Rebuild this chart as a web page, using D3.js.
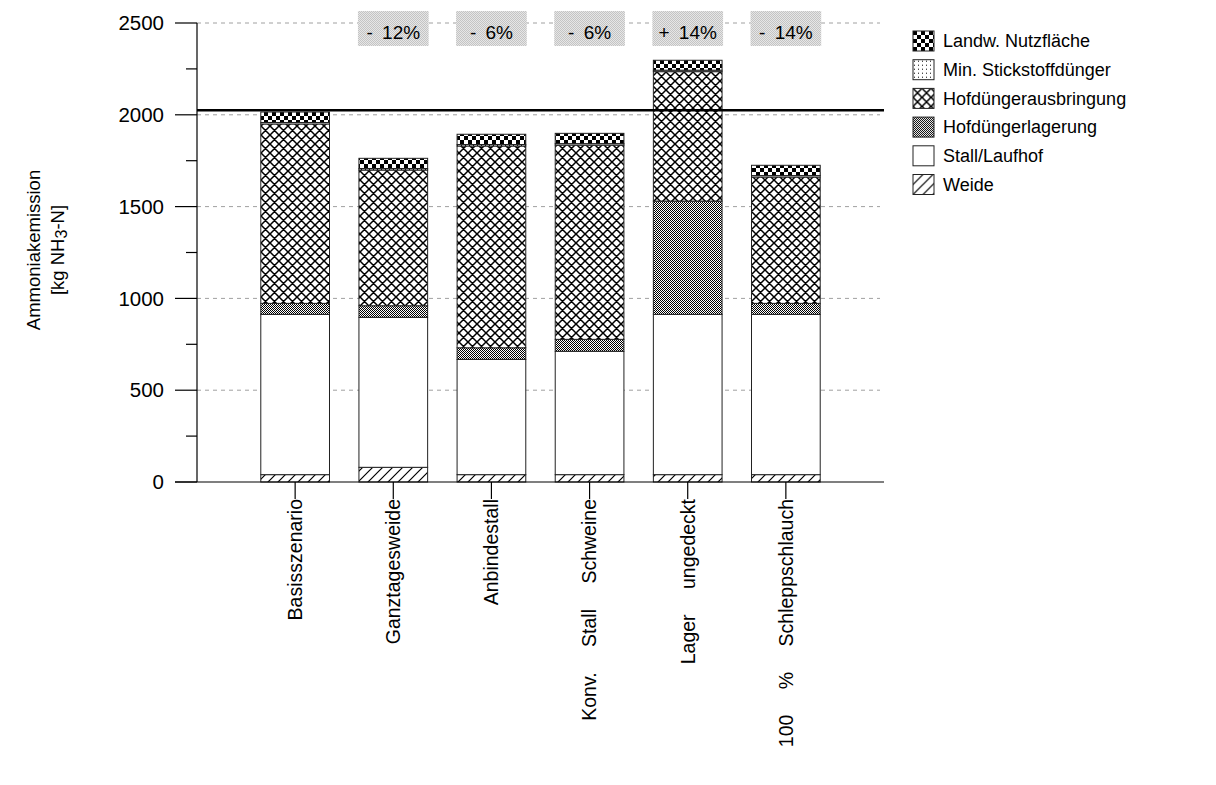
<!DOCTYPE html>
<html>
<head>
<meta charset="utf-8">
<script src="https://cdn.jsdelivr.net/npm/d3@7"></script>
<style>
  body { margin: 0; background: #fff; }
  text { font-family: "Liberation Sans", Arial, sans-serif; fill: #000; }
</style>
</head>
<body>
<svg id="chart" width="1216" height="785"></svg>
<script>
/*************************** Data ***************************/

var scenarios = ["Basisszenario", "Ganztagesweide", "Anbindestall", "Konv. Stall Schweine", "Lager ungedeckt", "100 % Schleppschlauch"];
var sources   = ["Weide", "Stall/Laufhof", "Hofdüngerlagerung", "Hofdüngerausbringung", "Min. Stickstoffdünger", "Landw. Nutzfläche"];

var weide       = [40, 80, 40, 40, 40, 40];
var stall       = [873, 817, 628, 672, 873, 873];
var lagerung    = [60, 63, 63, 65, 617, 60];
var ausbringung = [977, 739, 1099, 1058, 705, 688];
var minDuenger  = [8, 8, 8, 8, 8, 8];
var nutzflaeche = [57, 56, 56, 56, 54, 56];

var changeLabels = ["", "- 12%", "- 6%", "- 6%", "+ 14%", "- 14%"];
var baseline = 2025;
var yTicks = [0, 500, 1000, 1500, 2000, 2500];
var yMinorTicks = [250, 750, 1250, 1750, 2250];

/*************************** Setup ***************************/

var svg = d3.select("#chart");
var plotLeft = 197, plotRight = 884, plotTop = 23, plotBottom = 482;

var y = d3.scaleLinear().domain([0, 2500]).range([plotBottom, plotTop]);
var x = d3.scaleBand().domain(scenarios).range([plotLeft, plotRight]).paddingInner(0.3).paddingOuter(0.65);

var series = [weide, stall, lagerung, ausbringung, minDuenger, nutzflaeche];
var table = scenarios.map(function(s, i){
  var row = { scenario: s };
  sources.forEach(function(k, j){ row[k] = series[j][i]; });
  return row;
});
var stacked = d3.stack().keys(sources)(table);

/*************************** Patterns ***************************/

var defs = svg.append("defs");

function pattern(id, w, h){
  return defs.append("pattern")
    .attr("id", id).attr("patternUnits", "userSpaceOnUse")
    .attr("width", w).attr("height", h);
}

var p;
p = pattern("pat-landw", 8, 8);
p.append("rect").attr("width", 8).attr("height", 8).attr("fill", "#fff");
p.append("rect").attr("width", 4).attr("height", 4).attr("fill", "#000");
p.append("rect").attr("x", 4).attr("y", 4).attr("width", 4).attr("height", 4).attr("fill", "#000");

p = pattern("pat-min", 4, 4);
p.append("rect").attr("width", 4).attr("height", 4).attr("fill", "#fff");
p.append("rect").attr("x", 1).attr("y", 1).attr("width", 1).attr("height", 1).attr("fill", "#000");

p = pattern("pat-ausbr", 9, 9);
p.append("rect").attr("width", 9).attr("height", 9).attr("fill", "#fff");
p.append("path").attr("d", "M0,0L9,9M9,0L0,9M-1,8L1,10M8,-1L10,1M-1,1L1,-1M8,10L10,8")
  .attr("stroke", "#000").attr("stroke-width", 1.5).attr("fill", "none");

p = pattern("pat-lager", 2, 2);
p.append("rect").attr("width", 2).attr("height", 2).attr("fill", "#fff");
p.append("rect").attr("width", 1).attr("height", 1).attr("fill", "#000");
p.append("rect").attr("x", 1).attr("y", 1).attr("width", 1).attr("height", 1).attr("fill", "#000");

p = pattern("pat-weide", 10, 10);
p.append("rect").attr("width", 10).attr("height", 10).attr("fill", "#fff");
p.append("path").attr("d", "M0,10L10,0M-2,2L2,-2M8,12L12,8")
  .attr("stroke", "#000").attr("stroke-width", 1.2).attr("fill", "none");

p = pattern("pat-box", 2, 2);
p.append("rect").attr("width", 2).attr("height", 2).attr("fill", "#e6e6e6");
p.append("rect").attr("width", 1).attr("height", 1).attr("fill", "#c4c4c4");
p.append("rect").attr("x", 1).attr("y", 1).attr("width", 1).attr("height", 1).attr("fill", "#c4c4c4");

var fills = {
  "Weide": "url(#pat-weide)",
  "Stall/Laufhof": "#fff",
  "Hofdüngerlagerung": "url(#pat-lager)",
  "Hofdüngerausbringung": "url(#pat-ausbr)",
  "Min. Stickstoffdünger": "url(#pat-min)",
  "Landw. Nutzfläche": "url(#pat-landw)"
};

/*************************** Grid ***************************/

svg.append("g").selectAll("line").data(yTicks.slice(1)).enter().append("line")
  .attr("x1", plotLeft).attr("x2", 880)
  .attr("y1", function(d){ return y(d); }).attr("y2", function(d){ return y(d); })
  .attr("stroke", "#a0a0a0").attr("stroke-dasharray", "4,4");

/*************************** Change labels ***************************/

var boxes = svg.append("g");
scenarios.forEach(function(s, i){
  if(changeLabels[i] == ""){ return; }
  boxes.append("rect")
    .attr("x", x(s) - 1).attr("y", 11).attr("width", x.bandwidth() + 2).attr("height", 35)
    .attr("fill", "url(#pat-box)");
  boxes.append("text")
    .attr("x", x(s) + x.bandwidth()/2).attr("y", 38.5)
    .attr("text-anchor", "middle").attr("font-size", 19).attr("word-spacing", 4)
    .text(changeLabels[i]);
});

/*************************** Bars ***************************/

var layers = svg.append("g").selectAll("g").data(stacked).enter().append("g")
  .attr("fill", function(d){ return fills[d.key]; });

layers.selectAll("rect").data(function(d){ return d; }).enter().append("rect")
  .attr("x", function(d){ return x(d.data.scenario); })
  .attr("y", function(d){ return y(d[1]); })
  .attr("width", x.bandwidth())
  .attr("height", function(d){ return y(d[0]) - y(d[1]); })
  .attr("stroke", "#222").attr("stroke-width", 1);

/*************************** Reference line ***************************/

svg.append("line")
  .attr("x1", plotLeft).attr("x2", plotRight)
  .attr("y1", y(baseline)).attr("y2", y(baseline))
  .attr("stroke", "#000").attr("stroke-width", 2.5);

/*************************** Axes ***************************/

var axes = svg.append("g").attr("stroke", "#000").attr("stroke-width", 1.2);
axes.append("line").attr("x1", plotLeft).attr("x2", plotLeft).attr("y1", plotTop).attr("y2", plotBottom);
axes.append("line").attr("x1", 175).attr("x2", plotRight).attr("y1", plotBottom).attr("y2", plotBottom);

axes.selectAll(".major").data(yTicks).enter().append("line")
  .attr("x1", 175).attr("x2", plotLeft)
  .attr("y1", function(d){ return y(d); }).attr("y2", function(d){ return y(d); });
axes.selectAll(".minor").data(yMinorTicks).enter().append("line")
  .attr("x1", 186).attr("x2", plotLeft)
  .attr("y1", function(d){ return y(d); }).attr("y2", function(d){ return y(d); });
axes.selectAll(".xtick").data(scenarios).enter().append("line")
  .attr("x1", function(d){ return x(d) + x.bandwidth()/2; })
  .attr("x2", function(d){ return x(d) + x.bandwidth()/2; })
  .attr("y1", plotBottom).attr("y2", plotBottom + 17);

svg.append("g").selectAll("text").data(yTicks).enter().append("text")
  .attr("x", 164).attr("y", function(d){ return y(d); })
  .attr("dy", "0.35em").attr("text-anchor", "end").attr("font-size", 20.5)
  .text(function(d){ return d; });

svg.append("g").selectAll("text").data(scenarios).enter().append("text")
  .attr("transform", function(d){ return "translate(" + (x(d) + x.bandwidth()/2) + ",499) rotate(-90)"; })
  .attr("dy", "0.35em").attr("text-anchor", "end").attr("font-size", 19.5).attr("word-spacing", 20)
  .text(function(d){ return d; });

var title = svg.append("g").attr("transform", "translate(0,250) rotate(-90)");
title.append("text").attr("x", 0).attr("y", 40).attr("text-anchor", "middle").attr("font-size", 18.5)
  .text("Ammoniakemission");
var t2 = title.append("text").attr("x", 0).attr("y", 64).attr("text-anchor", "middle").attr("font-size", 18.5);
t2.append("tspan").text("[kg NH");
t2.append("tspan").attr("font-size", 16).attr("dy", 3).text("3");
t2.append("tspan").attr("dy", -3).text("-N]");

/*************************** Legend ***************************/

var legendKeys = sources.slice().reverse();
var legend = svg.append("g").selectAll("g").data(legendKeys).enter().append("g")
  .attr("transform", function(d, i){ return "translate(913," + (31 + i*28.7) + ")"; });
legend.append("rect").attr("width", 21).attr("height", 20)
  .attr("fill", function(d){ return fills[d]; })
  .attr("stroke", "#222").attr("stroke-width", 1);
legend.append("text").attr("x", 30).attr("y", 10).attr("dy", "0.35em").attr("font-size", 18)
  .text(function(d){ return d; });
</script>
</body>
</html>
